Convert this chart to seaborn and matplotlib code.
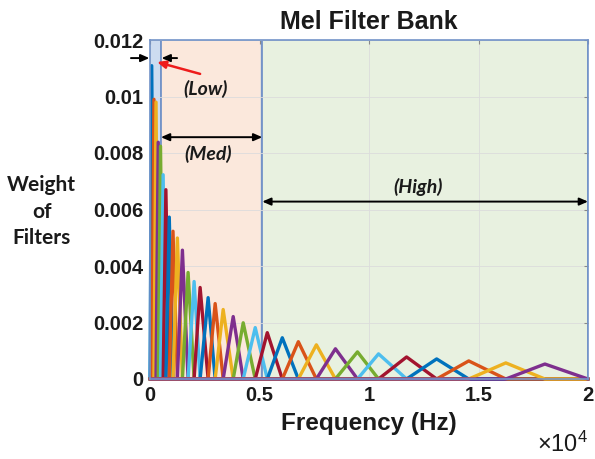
import numpy as np
import pandas as pd
import matplotlib
matplotlib.use('Agg')
import matplotlib.pyplot as plt
from matplotlib.patches import Rectangle
import seaborn as sns

# filter peak frequencies (Hz) and peak weights
centers = [78, 180, 275, 375, 480, 600, 725, 880, 1050, 1250,
           1480, 1739, 2014, 2288, 2654, 2975, 3341, 3799, 4256, 4805,
           5355, 6041, 6773, 7597, 8467, 9474, 10435, 11716, 13089, 14554,
           16247, 18032]
peaks = [0.01109, 0.0099, 0.0098, 0.00838, 0.00824, 0.00723, 0.0067, 0.00573, 0.00523, 0.00499,
         0.00456, 0.00377, 0.00345, 0.00324, 0.00288, 0.00267, 0.00246, 0.00221, 0.00199, 0.00182,
         0.00164, 0.00146, 0.00132, 0.00121, 0.00107, 0.00096, 0.00089, 0.00078, 0.00071, 0.00064,
         0.00057, 0.00053]
f_max = 20000
low_edge = 500
med_edge = 5126
xticks = [0, 5000, 10000, 15000, 20000]
xtick_labels = ['0', '0.5', '1', '1.5', '2']
yticks = [0, 0.002, 0.004, 0.006, 0.008, 0.01, 0.012]
ytick_labels = ['0', '0.002', '0.004', '0.006', '0.008', '0.01', '0.012']

matlab = ['#0072BD', '#D95319', '#EDB120', '#7E2F8E', '#77AC30', '#4DBEEE', '#A2142F']

edges = [0] + centers + [f_max]
rows = []
for i in range(len(centers)):
    name = 'F%02d' % (i + 1)
    xs = [0, edges[i], edges[i + 1], edges[i + 2], f_max]
    ys = [0, 0, peaks[i], 0, 0]
    for x, y in zip(xs, ys):
        rows.append({'freq': x, 'weight': y, 'filt': name})
df = pd.DataFrame(rows)
pal = {'F%02d' % (i + 1): matlab[i % 7] for i in range(len(centers))}

sns.set_style('white')
plt.rcParams['font.family'] = ['Liberation Sans', 'DejaVu Sans']
plt.rcParams['mathtext.default'] = 'regular'
plt.rcParams['text.color'] = '#1a1a1a'

fig = plt.figure(figsize=(5.95, 4.59), dpi=100)
ax = fig.add_axes([150 / 595, 1 - 379 / 459, 438 / 595, 339 / 459])

edge_c = '#7393c8'
ax.add_patch(Rectangle((0, 0), low_edge, 0.012, facecolor='#cddcf0', edgecolor=edge_c, lw=1.3, zorder=0.2))
ax.add_patch(Rectangle((low_edge, 0), med_edge - low_edge, 0.012, facecolor='#fbe8dc', edgecolor=edge_c, lw=1.3, zorder=0.2))
ax.add_patch(Rectangle((med_edge, 0), f_max - med_edge, 0.012, facecolor='#e8f1e0', edgecolor=edge_c, lw=1.3, zorder=0.2))

sns.lineplot(data=df, x='freq', y='weight', hue='filt', palette=pal, legend=False,
             estimator=None, sort=False, linewidth=2.4, ax=ax, zorder=2)
for ln in ax.lines:
    ln.set_clip_on(False)

ax.set_xlim(0, f_max)
ax.set_ylim(0, 0.012)
ax.set_xticks(xticks)
ax.set_xticklabels(xtick_labels, fontsize=14.5, fontweight='bold', color='#1a1a1a')
ax.set_yticks(yticks)
ax.set_yticklabels(ytick_labels, fontsize=14.5, fontweight='bold', color='#1a1a1a')
ax.tick_params(direction='in', length=3, color='#888888', pad=5, right=True, top=True)
ax.grid(True, color='#dcdcdc', lw=0.6)
ax.set_axisbelow(True)
for s in ax.spines.values():
    s.set_color(edge_c)
    s.set_linewidth(1.2)

ax.set_title('Mel Filter Bank', fontsize=18, fontweight='bold', pad=8)
ax.set_xlabel('Frequency (Hz)', fontsize=17.5, fontweight='bold', labelpad=5, color='#1a1a1a')
ax.text(1.0, -0.215, r'$\times10^4$', transform=ax.transAxes, ha='right', va='baseline', fontsize=17)
ax.set_ylabel('Weight\nof\nFilters', rotation=0, fontsize=15, fontweight='bold', color='#1a1a1a',
              family=['Lato', 'DejaVu Sans'], linespacing=1.4, ha='center', va='center')
ax.yaxis.set_label_coords(-0.247, 0.494)

lab = dict(fontsize=14, fontweight='bold', fontstyle='italic', family=['Lato', 'DejaVu Sans'],
           ha='center', va='center')
arr = dict(arrowstyle='-|>,head_length=0.5,head_width=0.22', color='black', lw=1.4,
           shrinkA=0, shrinkB=0)
dbl = dict(arrowstyle='<|-|>,head_length=0.5,head_width=0.22', color='black', lw=1.4,
           shrinkA=0, shrinkB=0)

ax.annotate('', xy=(-30, 0.01136), xytext=(-870, 0.01136), arrowprops=arr, annotation_clip=False)
ax.annotate('', xy=(low_edge + 30, 0.01136), xytext=(1236, 0.01136), arrowprops=arr, annotation_clip=False)
ax.annotate('', xy=(320, 0.01122), xytext=(2288, 0.0108),
            arrowprops=dict(arrowstyle='-|>,head_length=0.5,head_width=0.22', color='#ee1c1c', lw=1.8,
                            shrinkA=0, shrinkB=0))
ax.text(2517, 0.01026, '(Low)', **lab)
ax.annotate('', xy=(low_edge, 0.00856), xytext=(med_edge, 0.00856), arrowprops=dbl)
ax.text(2654, 0.00795, '(Med)', **lab)
ax.annotate('', xy=(med_edge, 0.00628), xytext=(f_max, 0.00628), arrowprops=dbl, annotation_clip=False)
ax.text(12220, 0.00678, '(High)', **lab)

fig.savefig('out.png', dpi=100)
